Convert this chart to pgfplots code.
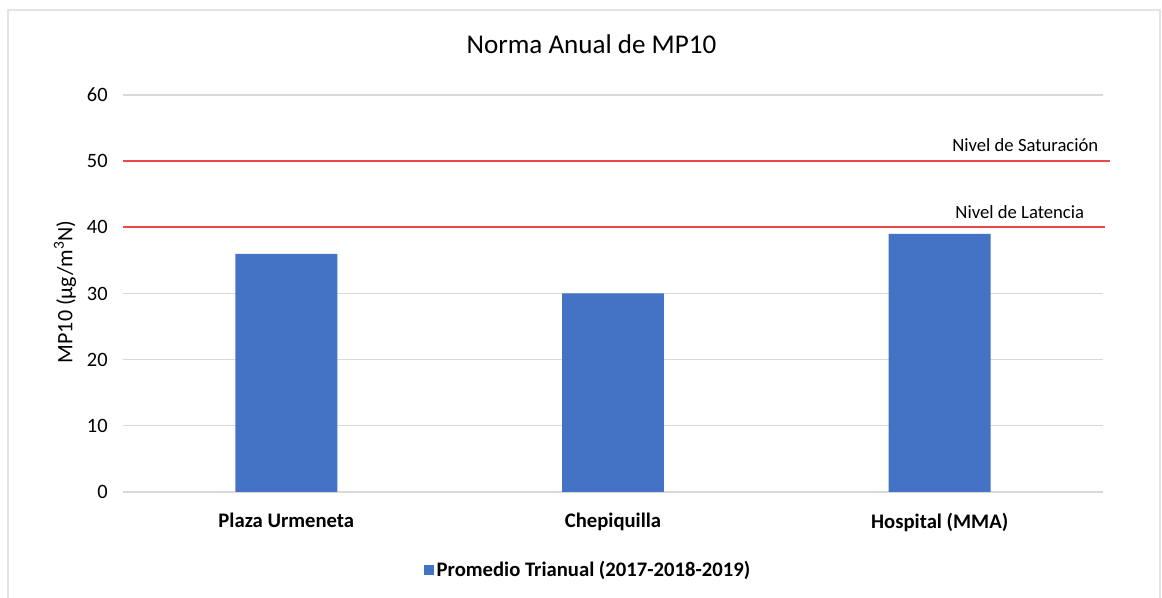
\documentclass[border=0pt]{standalone}
\usepackage{fontspec}
\setmainfont{Carlito}
\usepackage{pgfplots}
\pgfplotsset{compat=1.18}
\definecolor{barblue}{RGB}{68,114,196}
\definecolor{limred}{RGB}{238,72,72}
\definecolor{gridgray}{RGB}{217,217,217}
\begin{document}
\begin{tikzpicture}[x=0.75pt,y=0.75pt]
\useasboundingbox (-123,-106) rectangle (1039,492);
\draw[gridgray!70, line width=1.2pt] (-115,-115) -- (-115,482) -- (1037,482) -- (1037,-115);
\begin{axis}[
  at={(0,0)}, anchor=south west,
  scale only axis,
  width=735pt, height=297.75pt,
  xmin=-0.5, xmax=2.5, ymin=0, ymax=60,
  ytick={0,10,...,60},
  xtick={0,1,2},
  xticklabels={Plaza Urmeneta, Chepiquilla, Hospital (MMA)},
  xticklabel style={font=\fontsize{15.5}{18}\selectfont\bfseries, yshift=-12pt},
  yticklabel style={font=\fontsize{15.3}{18}\selectfont, xshift=-8pt},
  /pgf/number format/assume math mode=true,
  axis line style={draw=none},
  x axis line style={draw=gridgray, line width=1pt},
  major tick length=0pt,
  ymajorgrids, grid style={gridgray, line width=1pt},
  axis x line*=bottom,
  axis y line*=left,
  ylabel={MP10 (µg/m\textsuperscript{3}N)},
  ylabel style={font=\fontsize{16.5}{19}\selectfont, at={(axis description cs:0,0.504)}, anchor=center, yshift=43.5pt},
  title={Norma Anual de MP10},
  title style={font=\fontsize{20.3}{24}\selectfont, at={(axis description cs:0.478,1)}, anchor=center, yshift=32pt},
  clip=false,
  legend style={at={(axis description cs:0.475,0)}, anchor=center, yshift=-58.5pt, draw=none, font=\fontsize{15.5}{18}\selectfont\bfseries, legend cell align=left},
  legend image code/.code={\fill[barblue] (0cm,-0.13cm) rectangle (0.26cm,0.13cm);},
]
\addplot[ybar, bar width=0.312, fill=barblue, draw=none] coordinates {(0,36) (1,30) (2,39)};
\addlegendentry{Promedio Trianual (2017-2018-2019)}
\addplot[limred, line width=1.3pt, forget plot] coordinates {(-0.5,50) (2.52,50)};
\addplot[limred, line width=1.3pt, forget plot] coordinates {(-0.5,40) (2.506,40)};
\node[anchor=base east, font=\fontsize{14}{17}\selectfont] at (axis cs:2.5,51.4) {Nivel de Saturación};
\node[anchor=base west, font=\fontsize{14}{17}\selectfont] at (axis cs:2.034,41.4) {Nivel de Latencia};
\end{axis}
\end{tikzpicture}
\end{document}
